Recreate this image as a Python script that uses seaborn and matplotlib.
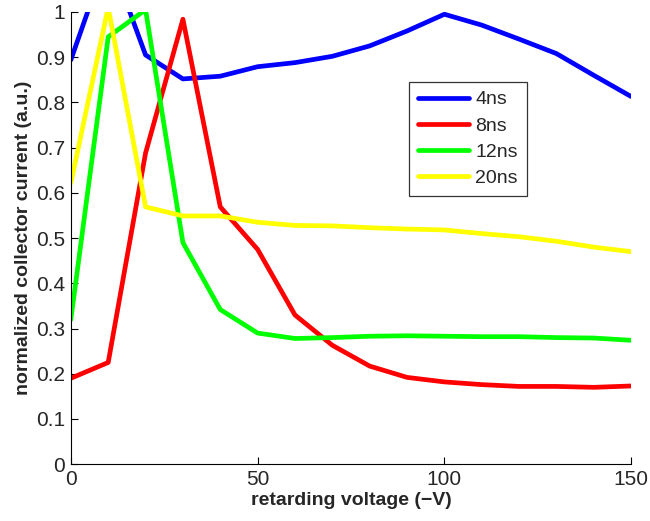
import numpy as np
import pandas as pd
import seaborn as sns
import matplotlib.pyplot as plt

# retarding voltage steps and normalized collector current per pulse width
voltage = [0, 10, 20, 30, 40, 50, 60, 70, 80, 90, 100, 110, 120, 130, 140, 150]
cur_4ns = [0.894, 1.13, 0.905, 0.852, 0.858, 0.879, 0.888, 0.902, 0.925, 0.958, 0.995,
           0.971, 0.940, 0.908, 0.860, 0.813]
cur_8ns = [0.19, 0.225, 0.688, 0.984, 0.569, 0.475, 0.33, 0.263, 0.217, 0.192, 0.182,
           0.176, 0.172, 0.172, 0.170, 0.173]
cur_12ns = [0.32, 0.945, 1.005, 0.49, 0.342, 0.29, 0.278, 0.28, 0.283, 0.284, 0.283,
            0.282, 0.282, 0.280, 0.279, 0.274]
cur_20ns = [0.622, 1.01, 0.569, 0.549, 0.549, 0.535, 0.528, 0.527, 0.523, 0.520, 0.518,
            0.510, 0.503, 0.493, 0.480, 0.470]
labels = ['4ns', '8ns', '12ns', '20ns']
colors = ['#0000ff', '#ff0000', '#00ff00', '#ffff00']

df = pd.concat([
    pd.DataFrame({'voltage': voltage, 'current': c, 'pulse': lab})
    for c, lab in zip([cur_4ns, cur_8ns, cur_12ns, cur_20ns], labels)
])

sns.set_style('ticks')
plt.rcParams['font.family'] = ['Liberation Sans', 'DejaVu Sans']
plt.rcParams['xtick.direction'] = 'in'
plt.rcParams['ytick.direction'] = 'in'

fig = plt.figure(figsize=(6.5, 5.21), dpi=100)
ax = fig.add_axes([0.109, 0.109, 0.862, 0.868])

sns.lineplot(data=df, x='voltage', y='current', hue='pulse', hue_order=labels,
             palette=colors, linewidth=3.4, ax=ax)

ax.set_xlim(0, 150)
ax.set_ylim(0, 1)
ax.set_xticks([0, 50, 100, 150])
ax.set_yticks(np.arange(0, 1.01, 0.1))
ax.set_yticklabels(['0', '0.1', '0.2', '0.3', '0.4', '0.5', '0.6', '0.7', '0.8', '0.9', '1'])
ax.tick_params(labelsize=15, length=5, width=0.8, color='black', pad=4)
ax.set_xlabel('retarding voltage (\u2212V)', fontsize=14, fontweight='bold', labelpad=2)
ax.set_ylabel('normalized collector current (a.u.)', fontsize=14, fontweight='bold', labelpad=3)
sns.despine(ax=ax)
for s in ['left', 'bottom']:
    ax.spines[s].set_linewidth(0.8)
    ax.spines[s].set_color('black')

leg = ax.legend(loc='upper left', bbox_to_anchor=(0.604, 0.845), fontsize=14,
                frameon=True, fancybox=False, handlelength=2.6, borderpad=0.45,
                labelspacing=0.44, handletextpad=0.35, borderaxespad=0)
leg.get_frame().set_edgecolor('black')
leg.get_frame().set_linewidth(0.9)
leg.set_title(None)

fig.savefig('out.png', dpi=100)
